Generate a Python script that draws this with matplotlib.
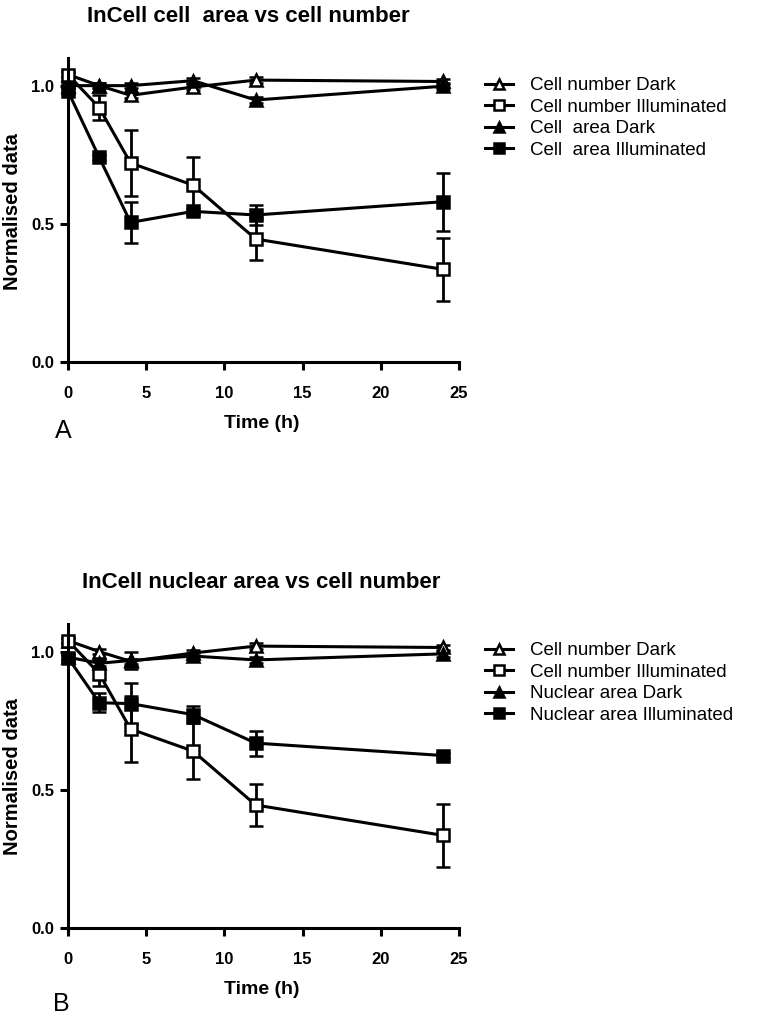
import matplotlib
matplotlib.use('Agg')
import matplotlib.pyplot as plt

plt.rcParams['font.family'] = ['Liberation Sans', 'DejaVu Sans']

# time points (h)
time = [0, 2, 4, 8, 12, 24]

# shared cell number series
cellnum_dark = [1.04, 1.00, 0.965, 0.995, 1.02, 1.015]
cellnum_dark_err = [0.01, 0.01, 0.01, 0.01, 0.01, 0.01]
cellnum_illum = [1.04, 0.92, 0.72, 0.64, 0.445, 0.335]
cellnum_illum_err = [0.01, 0.045, 0.12, 0.10, 0.075, 0.115]

# panel A: cell area
cellarea_dark = [1.0, 1.0, 1.0, 1.018, 0.948, 0.998]
cellarea_dark_err = [0.01, 0.01, 0.01, 0.01, 0.01, 0.01]
cellarea_illum = [0.98, 0.74, 0.505, 0.545, 0.532, 0.58]
cellarea_illum_err = [0.01, 0.01, 0.075, 0.01, 0.035, 0.105]

# panel B: nuclear area
nucarea_dark = [0.98, 0.958, 0.968, 0.984, 0.97, 0.992]
nucarea_dark_err = [0.01, 0.01, 0.032, 0.01, 0.01, 0.01]
nucarea_illum = [0.978, 0.815, 0.812, 0.772, 0.669, 0.624]
nucarea_illum_err = [0.01, 0.035, 0.075, 0.03, 0.045, 0.01]

W, H = 760, 1017


def px(x, y):
    return x / W, 1 - y / H


def draw_panel(ax, series):
    styles = [('^', 'white'), ('s', 'white'), ('^', 'black'), ('s', 'black')]
    handles = []
    for (vals, errs), (mk, fc) in zip(series, styles):
        h = ax.errorbar(time, vals, yerr=errs, color='black', lw=2.2,
                        marker=mk, markersize=9, markerfacecolor=fc,
                        markeredgecolor='black', markeredgewidth=1.8,
                        capsize=5, capthick=2, elinewidth=2, clip_on=False)
        for a in list(h.lines[1]) + list(h.lines[2]):
            a.set_clip_on(False)
        handles.append(h.lines[0])
    ax.set_xlim(0, 25)
    ax.set_ylim(0, 1.1)
    ax.set_xticks([0, 5, 10, 15, 20, 25])
    ax.set_yticks([0.0, 0.5, 1.0])
    ax.set_yticklabels(['0.0', '0.5', '1.0'])
    for s in ['top', 'right']:
        ax.spines[s].set_visible(False)
    for s in ['left', 'bottom']:
        ax.spines[s].set_linewidth(2.2)
    ax.tick_params(width=2.2, length=6, labelsize=12)
    ax.tick_params(axis='x', pad=11)
    ax.tick_params(axis='y', pad=4)
    for t in ax.get_xticklabels() + ax.get_yticklabels():
        t.set_fontweight('bold')
    return handles


def legend(handles, labels, y_top):
    fig.legend(handles, labels, loc='upper left', bbox_to_anchor=px(485, y_top),
               frameon=False, fontsize=13.5, handlelength=1.5, labelspacing=0.24,
               handletextpad=0.9, markerscale=0.85, borderaxespad=0, borderpad=0)


fig = plt.figure(figsize=(W / 100, H / 100), dpi=100)

# panel A
axA = fig.add_axes([68 / W, 1 - 362 / H, 391 / W, 304 / H])
hA = draw_panel(axA, [(cellnum_dark, cellnum_dark_err), (cellnum_illum, cellnum_illum_err),
                      (cellarea_dark, cellarea_dark_err), (cellarea_illum, cellarea_illum_err)])
labelsA = ['Cell number Dark', 'Cell number Illuminated', 'Cell  area Dark', 'Cell  area Illuminated']
legend(hA, labelsA, 77)
fig.text(*px(248, 16), 'InCell cell  area vs cell number', ha='center', va='center',
         fontsize=16, fontweight='bold')
fig.text(*px(13, 212), 'Normalised data', ha='center', va='center', rotation=90,
         fontsize=14.5, fontweight='bold')
fig.text(*px(262, 423), 'Time (h)', ha='center', va='center', fontsize=14, fontweight='bold')
fig.text(*px(63, 431), 'A', ha='center', va='center', fontsize=18)

# panel B
axB = fig.add_axes([68 / W, 1 - 928 / H, 391 / W, 304 / H])
hB = draw_panel(axB, [(cellnum_dark, cellnum_dark_err), (cellnum_illum, cellnum_illum_err),
                      (nucarea_dark, nucarea_dark_err), (nucarea_illum, nucarea_illum_err)])
labelsB = ['Cell number Dark', 'Cell number Illuminated', 'Nuclear area Dark', 'Nuclear area Illuminated']
legend(hB, labelsB, 642)
fig.text(*px(261, 583), 'InCell nuclear area vs cell number', ha='center', va='center',
         fontsize=16, fontweight='bold')
fig.text(*px(13, 777), 'Normalised data', ha='center', va='center', rotation=90,
         fontsize=14.5, fontweight='bold')
fig.text(*px(262, 990), 'Time (h)', ha='center', va='center', fontsize=14, fontweight='bold')
fig.text(*px(61, 1004), 'B', ha='center', va='center', fontsize=18)

fig.savefig('out.png', dpi=100)
